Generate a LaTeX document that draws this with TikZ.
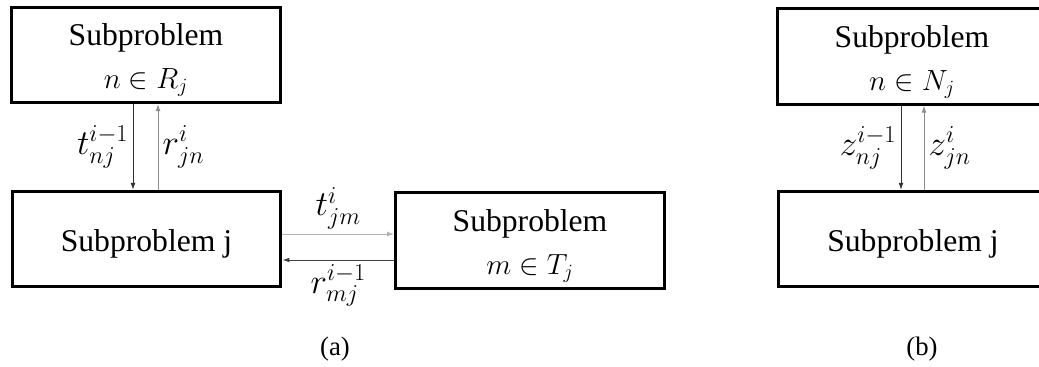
\documentclass[tikz,border=0pt]{standalone}
\usepackage{fontspec}
\setmainfont{Liberation Serif}
\usetikzlibrary{arrows.meta}
\newcommand{\boxtext}[1]{\raisebox{-3.8pt}[\height][\depth]{\shortstack{#1}}}
\tikzset{
  subbox/.style={draw, line width=2.1pt, minimum width=6.72cm, minimum height=2.38cm,
    align=center, inner sep=0pt, font=\fontsize{22.5}{29}\selectfont},
  msg/.style={-{Latex[length=5pt,width=3.5pt]}, line width=0.7pt},
  lbl/.style={font=\fontsize{24}{28}\selectfont, inner sep=3pt}
}
\begin{document}
\begin{tikzpicture}[x=0.025cm, y=-0.025cm]
  \useasboundingbox (0,0) rectangle (1039,367);
  % --- (a) ---
  \node[subbox] (nr) at (146, 55) {\boxtext{Subproblem\\[8.5pt]$n \in R_j$}};
  \node[subbox] (ja) at (146.5, 239) {\boxtext{Subproblem j}};
  \node[subbox] (mt) at (530, 240.5) {\boxtext{Subproblem\\[8.5pt]$m \in T_j$}};
  % entre n et j
  \draw[msg, black!80] ([xshift=-3.25mm]nr.south) -- ([xshift=-3.25mm]nr.south |- ja.north)
    node[midway, left, lbl, black] {$t_{nj}^{i-1}$};
  \draw[msg, black!45] ([xshift=3mm]nr.south |- ja.north) -- ([xshift=3mm]nr.south)
    node[midway, right, lbl, black] {$r_{jn}^{i}$};
  % entre j et m
  \draw[msg, black!30] ([yshift=1.25mm]ja.east) -- ([yshift=1.25mm]ja.east -| mt.west)
    node[midway, above, lbl, black] {$t_{jm}^{i}$};
  \draw[msg, black!75] ([yshift=-5.25mm]ja.east -| mt.west) -- ([yshift=-5.25mm]ja.east)
    node[midway, below, lbl, black] {$r_{mj}^{i-1}$};
  \node[font=\fontsize{19}{22}\selectfont] (capa) at (335, 349) {(a)};
  % --- (b) ---
  \node[subbox] (nn) at (912, 56.5) {\boxtext{Subproblem\\[8.5pt]$n \in N_j$}};
  \node[subbox] (jb) at (913, 239) {\boxtext{Subproblem j}};
  \draw[msg, black!80] ([xshift=-2.75mm]nn.south) -- ([xshift=-2.75mm]nn.south |- jb.north)
    node[midway, left, lbl, black] {$z_{nj}^{i-1}$};
  \draw[msg, black!45] ([xshift=3mm]nn.south |- jb.north) -- ([xshift=3mm]nn.south)
    node[midway, right, lbl, black] {$z_{jn}^{i}$};
  \node[font=\fontsize{19}{22}\selectfont] (capb) at (922, 349) {(b)};
\end{tikzpicture}
\end{document}
